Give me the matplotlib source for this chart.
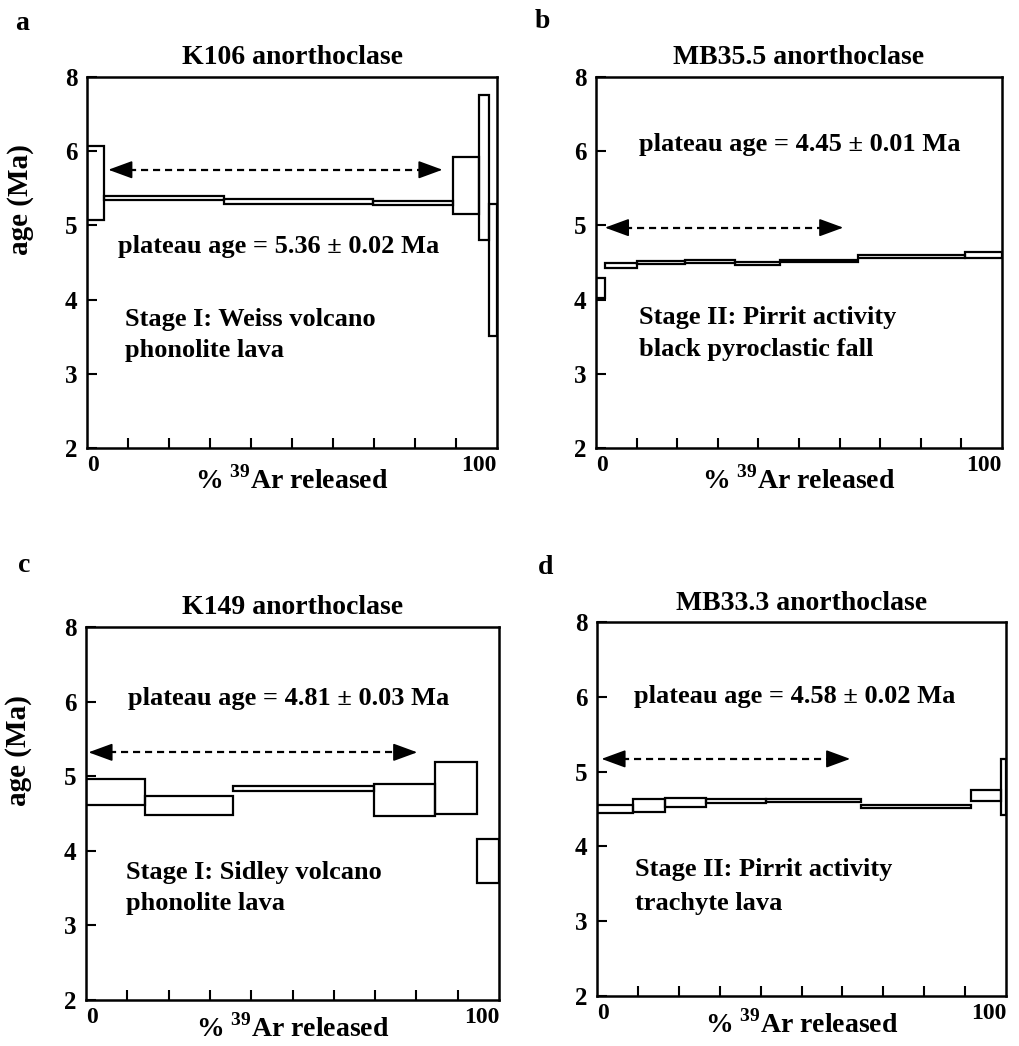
import numpy as np
import matplotlib
matplotlib.use("Agg")
import matplotlib.pyplot as plt

plt.rcParams['font.family'] = ['Liberation Serif', 'DejaVu Serif']
plt.rcParams['font.weight'] = 'bold'
plt.rcParams['axes.labelweight'] = 'bold'
plt.rcParams['axes.titleweight'] = 'bold'
plt.rcParams['mathtext.fontset'] = 'custom'
plt.rcParams['mathtext.rm'] = 'Liberation Serif:bold'
plt.rcParams['mathtext.bf'] = 'Liberation Serif:bold'

# step-heating spectra: cumulative % 39Ar edges, lower / upper age (Ma)
a_edges = [0, 4.1, 33.4, 69.8, 89.3, 95.6, 98.1, 100]
a_low = [5.07, 5.34, 5.29, 5.27, 5.15, 4.80, 3.51]
a_high = [6.13, 5.39, 5.36, 5.33, 5.92, 7.51, 5.29]

b_edges = [0, 2.2, 10.0, 21.9, 34.2, 45.3, 64.6, 90.9, 100]
b_low = [4.02, 4.42, 4.48, 4.49, 4.47, 4.50, 4.56, 4.56]
b_high = [4.29, 4.49, 4.52, 4.53, 4.51, 4.54, 4.60, 4.64]

c_edges = [0, 14.3, 35.7, 69.7, 84.5, 94.6, 100]
c_low = [4.61, 4.48, 4.80, 4.47, 4.50, 3.57]
c_high = [4.96, 4.74, 4.87, 4.90, 5.19, 4.16]

d_edges = [0, 8.7, 16.6, 26.7, 41.3, 64.5, 91.4, 98.7, 100]
d_low = [4.44, 4.46, 4.53, 4.58, 4.59, 4.52, 4.61, 4.42]
d_high = [4.56, 4.63, 4.65, 4.64, 4.64, 4.56, 4.76, 5.17]

titles = ['K106 anorthoclase', 'MB35.5 anorthoclase', 'K149 anorthoclase', 'MB33.3 anorthoclase']
letters = ['a', 'b', 'c', 'd']
plateau = ['plateau age = 5.36 ± 0.02 Ma', 'plateau age = 4.45 ± 0.01 Ma',
           'plateau age = 4.81 ± 0.03 Ma', 'plateau age = 4.58 ± 0.02 Ma']
stage = [('Stage I: Weiss volcano', 'phonolite lava'),
         ('Stage II: Pirrit activity', 'black pyroclastic fall'),
         ('Stage I: Sidley volcano', 'phonolite lava'),
         ('Stage II: Pirrit activity', 'trachyte lava')]
arrow_x = [(5.2, 86.7), (2.2, 60.9), (0.6, 80.2), (1.1, 61.9)]
arrow_y = [5.75, 4.97, 5.32, 5.17]
plateau_xy = [(46.7, 4.71), (50.1, 6.18), (49.0, 6.07), (48.3, 6.0)]
stage_xy = [(9.3, 3.73, 3.31), (10.7, 3.76, 3.33), (9.8, 3.71, 3.29), (9.3, 3.69, 3.24)]

spectra = [(a_edges, a_low, a_high), (b_edges, b_low, b_high),
           (c_edges, c_low, c_high), (d_edges, d_low, d_high)]

W, H = 1019, 1046
fig = plt.figure(figsize=(W / 100, H / 100), dpi=100)

# axes boxes in pixels: left, top, right, bottom
boxes = [(87, 77, 497, 448), (596, 77, 1002, 448), (86, 627, 499, 1000), (597, 622, 1006, 996)]
letter_pos = [(15, 23), (535, 22), (18, 565), (538, 568)]


def fwd(y):
    y = np.asarray(y, dtype=float)
    return np.where(y <= 6, y, 6 + (y - 6) / 2)


def inv(v):
    v = np.asarray(v, dtype=float)
    return np.where(v <= 6, v, 6 + (v - 6) * 2)


for i in range(4):
    l, t, r, b = boxes[i]
    ax = fig.add_axes([l / W, 1 - b / H, (r - l) / W, (b - t) / H])
    ax.set_yscale('function', functions=(fwd, inv))
    edges, low, high = spectra[i]
    edges = np.array(edges)
    low = np.array(low)
    high = np.array(high)
    ax.bar(edges[:-1], high - low, width=np.diff(edges), bottom=low, align='edge',
           fill=False, edgecolor='black', linewidth=1.6)

    ax.set_xlim(0, 100)
    ax.set_ylim(2, 8)
    ax.set_yticks([2, 3, 4, 5, 6, 8])
    ax.set_yticklabels(['2', '3', '4', '5', '6', '8'])
    ax.set_xticks([0, 100])
    ax.set_xticklabels(['0', '100'])
    ax.set_xticks(np.arange(10, 100, 10), minor=True)
    ax.tick_params(axis='x', which='both', direction='in', length=7, width=1.5, labelsize=17, pad=5)
    ax.tick_params(axis='x', which='major', length=0)
    ax.tick_params(axis='y', direction='in', length=7, width=1.5, labelsize=18, pad=7)
    xl = ax.get_xticklabels()
    xl[0].set_horizontalalignment('left')
    xl[1].set_horizontalalignment('right')
    for s in ax.spines.values():
        s.set_linewidth(1.8)

    ax.set_xlabel(r'% $^{39}$Ar released', fontsize=20, labelpad=-7 if i < 2 else -10)
    if i in (0, 2):
        ax.set_ylabel('age (Ma)', fontsize=21)
        ax.yaxis.set_label_coords(-0.13, 0.67)
    ax.set_title(titles[i], fontsize=20, pad=9)
    fig.text(letter_pos[i][0] / W, 1 - letter_pos[i][1] / H, letters[i], fontsize=20,
             fontweight='bold', ha='left', va='center')

    # plateau arrow
    x0, x1 = arrow_x[i]
    y = arrow_y[i]
    hl = 5.0
    ax.plot([x0 + hl, x1 - hl], [y, y], color='black', linestyle=(0, (3.2, 2.2)), linewidth=1.6)
    for tip, tail in ((x0, x0 + hl + 0.5), (x1, x1 - hl - 0.5)):
        ax.annotate('', xy=(tip, y), xytext=(tail, y),
                    arrowprops=dict(arrowstyle='-|>,head_length=1.5,head_width=0.55',
                                    color='black', linewidth=1.2, shrinkA=0, shrinkB=0))

    px, py = plateau_xy[i]
    ax.text(px, py, plateau[i], fontsize=19, fontweight='bold', ha='center', va='center')
    sx, sy1, sy2 = stage_xy[i]
    ax.text(sx, sy1, stage[i][0], fontsize=19, fontweight='bold', ha='left', va='center')
    ax.text(sx, sy2, stage[i][1], fontsize=19, fontweight='bold', ha='left', va='center')

fig.savefig('out.png', dpi=100)
